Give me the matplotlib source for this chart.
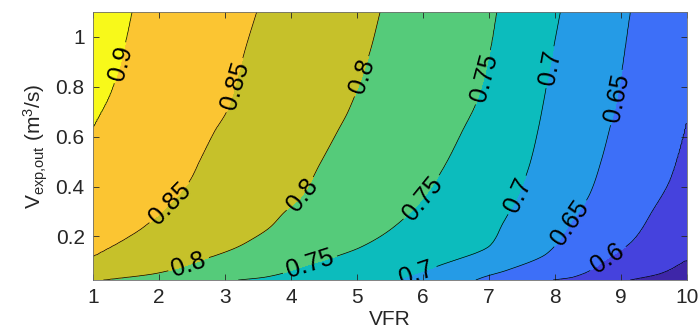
import numpy as np
import matplotlib.pyplot as plt

plt.rcParams['font.family'] = ['Liberation Sans', 'DejaVu Sans']
plt.rcParams['mathtext.fontset'] = 'custom'
plt.rcParams['mathtext.rm'] = 'Liberation Sans'
plt.rcParams['mathtext.it'] = 'Liberation Sans:italic'

# efficiency contour levels
levels = [0.55, 0.6, 0.65, 0.7, 0.75, 0.8, 0.85, 0.9]

# traced iso-lines: VFR position of each level at a given outlet flow rate
c55_vfr = [9.14, 9.59, 10.0]
c55_flow = [0.025, 0.05, 0.104]

c60_vfr = [7.97, 8.27, 8.80, 9.18, 9.48, 9.74, 9.89, 10.0]
c60_flow = [0.025, 0.036, 0.112, 0.184, 0.304, 0.424, 0.544, 0.652]

c65_vfr = [6.8, 6.91, 7.27, 7.88, 8.23, 8.53, 8.70, 8.82, 8.94, 9.14]
c65_flow = [0.025, 0.036, 0.064, 0.132, 0.252, 0.372, 0.504, 0.624, 0.756, 1.1]

c70_vfr = [5.6, 6.26, 7.02, 7.21, 7.44, 7.62, 7.74, 7.92, 8.08]
c70_flow = [0.025, 0.084, 0.164, 0.252, 0.364, 0.492, 0.624, 0.876, 1.1]

c75_vfr = [3.2, 3.6, 4.24, 4.64, 5.05, 5.55, 6.0, 6.3, 6.6, 6.82, 7.02, 7.12]
c75_flow = [0.025, 0.036, 0.084, 0.116, 0.156, 0.236, 0.352, 0.47, 0.624, 0.744, 0.944, 1.1]

c80_vfr = [1.15, 1.97, 2.73, 3.18, 3.38, 3.68, 3.88, 4.17, 4.44, 4.71, 4.87, 5.2, 5.35]
c80_flow = [0.025, 0.052, 0.112, 0.156, 0.184, 0.236, 0.292, 0.364, 0.492, 0.624, 0.704, 0.944, 1.1]

c85_vfr = [1.0, 1.45, 1.76, 2.17, 2.47, 2.62, 2.85, 3.03, 3.2, 3.33, 3.48]
c85_flow = [0.12, 0.184, 0.236, 0.332, 0.424, 0.504, 0.624, 0.704, 0.85, 0.972, 1.1]

c90_vfr = [1.0, 1.26, 1.42, 1.53, 1.59]
c90_flow = [0.64, 0.772, 0.9, 1.024, 1.1]

band_colors = ['#3e26a8', '#4542dd', '#3d6ff8', '#259be6', '#0cbcbd',
               '#55cb7a', '#c6c12a', '#fbc532', '#f8f91a']

curves = {
    0.55: (c55_vfr, c55_flow),
    0.6: (c60_vfr, c60_flow),
    0.65: (c65_vfr, c65_flow),
    0.7: (c70_vfr, c70_flow),
    0.75: (c75_vfr, c75_flow),
    0.8: (c80_vfr, c80_flow),
    0.85: (c85_vfr, c85_flow),
    0.9: (c90_vfr, c90_flow),
}


def pchip(xk, yk, x):
    # monotone cubic through the traced points
    xk = np.asarray(xk, float)
    yk = np.asarray(yk, float)
    h = np.diff(xk)
    d = np.diff(yk) / h
    m = np.zeros_like(yk)
    m[0], m[-1] = d[0], d[-1]
    for k in range(1, len(xk) - 1):
        if d[k - 1] * d[k] > 0:
            w1 = 2 * h[k] + h[k - 1]
            w2 = h[k] + 2 * h[k - 1]
            m[k] = (w1 + w2) / (w1 / d[k - 1] + w2 / d[k])
    k = np.clip(np.searchsorted(xk, x) - 1, 0, len(xk) - 2)
    t = (x - xk[k]) / h[k]
    h00 = 2 * t**3 - 3 * t**2 + 1
    h10 = t**3 - 2 * t**2 + t
    h01 = -2 * t**3 + 3 * t**2
    h11 = t**3 - t**2
    return h00 * yk[k] + h10 * h[k] * m[k] + h01 * yk[k + 1] + h11 * h[k] * m[k + 1]


# rebuild the efficiency field row by row from the iso-lines
vfr = np.linspace(1, 10, 451)
flow = np.linspace(0.025, 1.1, 300)
Z = np.empty((flow.size, vfr.size))
for i, q in enumerate(flow):
    pts = []
    for lev, (cx, cy) in curves.items():
        if cy[0] <= q <= cy[-1]:
            xq = float(pchip(cy, cx, q))
            if 1 < xq < 10:
                pts.append((xq, lev))
    pts.sort()
    xs = [1.0] + [p[0] for p in pts] + [10.0]
    zs = [pts[0][1] + 0.025] + [p[1] for p in pts] + [pts[-1][1] - 0.025]
    Z[i] = np.interp(vfr, xs, zs)

fig = plt.figure(figsize=(7, 3.36), dpi=100)
ax = fig.add_axes([0.1329, 0.1667, 0.8486, 0.7976])

fill_levels = [0.5] + levels + [0.95]
ax.contourf(vfr, flow, Z, levels=fill_levels, colors=band_colors)
cs = ax.contour(vfr, flow, Z, levels=levels, colors='k', linewidths=0.5)

label_pos = [
    (1.41, 0.896), (3.18, 0.804), (5.05, 0.844), (6.94, 0.836),
    (7.97, 0.876), (8.94, 0.756), (2.17, 0.332), (4.17, 0.364),
    (6.0, 0.352), (7.44, 0.364), (8.23, 0.252), (8.80, 0.112),
    (2.47, 0.072), (4.29, 0.084), (5.88, 0.064),
]
ax.clabel(cs, manual=label_pos, inline=True, fmt='%g', fontsize=18,
          colors='k', inline_spacing=4)

ax.set_xlim(1, 10)
ax.set_ylim(0.025, 1.1)
ax.set_xticks(range(1, 11))
ax.set_yticks([0.2, 0.4, 0.6, 0.8, 1.0])
ax.set_yticklabels(['0.2', '0.4', '0.6', '0.8', '1'])
ax.tick_params(direction='in', length=4, width=0.6, colors='#262626',
               labelsize=15, top=True, right=True, pad=6)
for sp in ax.spines.values():
    sp.set_color('#6e6e6e')
    sp.set_linewidth(0.6)

ax.set_xlabel('VFR', fontsize=15, color='#262626', labelpad=2)
ax.set_ylabel(r'$\mathrm{V_{exp{,}out}\ (m^3/s)}$', fontsize=15,
              color='#262626', labelpad=4)

fig.savefig('out.png', dpi=100)
